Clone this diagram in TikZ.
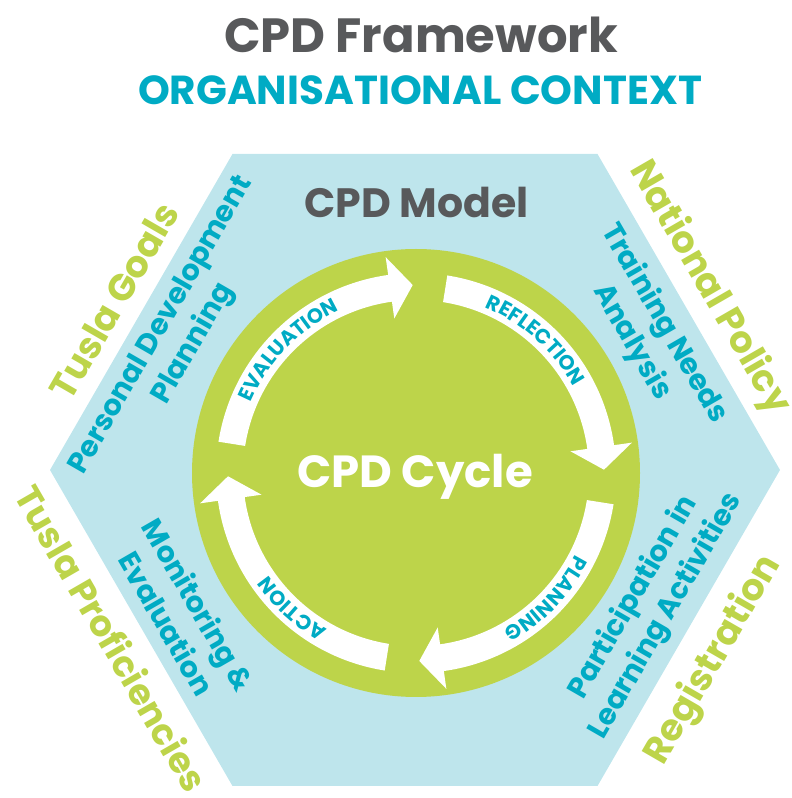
\documentclass[tikz,border=0pt]{standalone}
\usepackage{fontspec}
\setmainfont{Poppins}
\usetikzlibrary{decorations.text}
\definecolor{cpdgrey}{RGB}{88,89,91}
\definecolor{cpdteal}{RGB}{0,171,196}
\definecolor{cpdgreen}{RGB}{189,212,74}
\definecolor{cpdblue}{RGB}{190,229,236}
\newcommand\arcfmt{\color{cpdteal}\fontsize{20.5}{20.5}\selectfont\bfseries}
\begin{document}
\begin{tikzpicture}[x=1pt,y=1pt,
  outerlbl/.style={text=cpdgreen, inner sep=0pt, font=\fontsize{37}{44}\selectfont\bfseries},
  innerlbl/.style={text=cpdteal, inner sep=0pt, align=center, font=\fontsize{29}{37}\selectfont\bfseries},
  headlbl/.style={anchor=base, inner sep=0pt}]
\useasboundingbox (0,0) rectangle (792,798);
% hexagon
\fill[cpdblue] (780,328) -- (597.5,644) -- (232.5,644) -- (50,328) -- (232.5,12) -- (597.5,12) -- cycle;
% circle and arrows
\begin{scope}[shift={(416,325)}]
\fill[cpdgreen] (0,0) circle[radius=224pt];
\foreach \k in {0,1,2,3}{
  \pgfmathsetmacro\ta{171-90*\k}
  \pgfmathsetmacro\tb{98-90*\k}
  \pgfmathsetmacro\tc{91-90*\k}
  \fill[white] (\ta:200pt) arc[start angle=\ta, end angle=\tb, radius=200pt]
    -- (\tb:218pt) -- (\tc:188pt) -- (\tb:156pt) -- (\tb:173pt)
    arc[start angle=\tb, end angle=\ta, radius=173pt] -- cycle;
}
\path[decorate, decoration={text along path, text align=center, text={|\arcfmt|EVALUATION}}]
  (176:179.5pt) arc[start angle=176, end angle=96, radius=179.5pt];
\path[decorate, decoration={text along path, text align=center, text={|\arcfmt|REFLECTION}}]
  (88:179.5pt) arc[start angle=88, end angle=8, radius=179.5pt];
\path[decorate, decoration={text along path, text align=center, text={|\arcfmt|PLANNING}}]
  (-4:179.5pt) arc[start angle=-4, end angle=-84, radius=179.5pt];
\path[decorate, decoration={text along path, text align=center, text={|\arcfmt|ACTION}}]
  (-92.5:179.5pt) arc[start angle=-92.5, end angle=-172.5, radius=179.5pt];
\end{scope}
% headings
\node[headlbl, text=cpdgrey, font=\fontsize{48}{48}\selectfont\bfseries] (title) at (421,745) {CPD Framework};
\node[headlbl, text=cpdteal, font=\fontsize{40.5}{40.5}\selectfont\bfseries] (org) at (420,693) {ORGANISATIONAL CONTEXT};
\node[headlbl, text=cpdgrey, font=\fontsize{41}{41}\selectfont\bfseries] (model) at (416.5,580) {CPD Model};
\node[headlbl, text=white, font=\fontsize{45}{45}\selectfont\bfseries] (cycle) at (415,310) {CPD Cycle};
% side labels
\node[outerlbl, rotate=60] (goals) at (114,497) {Tusla Goals};
\node[innerlbl, rotate=60] (pdp) at (178,463) {Personal Development\\Planning};
\node[outerlbl, rotate=-60] (natpol) at (709,510) {National Policy};
\node[innerlbl, rotate=-60] (tna) at (648,465) {Training Needs\\Analysis};
\node[outerlbl, rotate=-60, font=\fontsize{36}{44}\selectfont\bfseries] (prof) at (112,160) {Tusla Proficiencies};
\node[innerlbl, rotate=-60] (mon) at (183,184) {Monitoring \&\\Evaluation};
\node[innerlbl, rotate=60] (part) at (650,191) {Participation in\\Learning Activities};
\node[outerlbl, rotate=60] (reg) at (714,138) {Registration};
\end{tikzpicture}
\end{document}
